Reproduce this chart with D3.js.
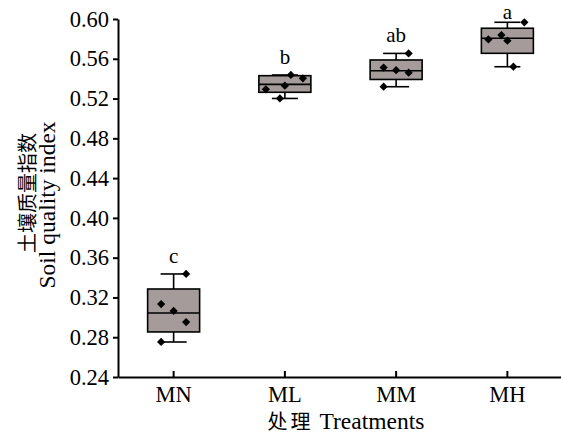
<!DOCTYPE html>
<html>
<head>
<meta charset="utf-8">
<script src="https://cdn.jsdelivr.net/npm/d3@7"></script>
<style>
  html, body { margin: 0; padding: 0; background: #fff; }
  svg { display: block; }
</style>
</head>
<body>
<script>
// data
const treatments = ["MN", "ML", "MM", "MH"];
const whiskerMin = [0.2752, 0.5201, 0.5319, 0.5520];
const q1 = [0.2853, 0.5263, 0.5392, 0.5655];
const median = [0.3044, 0.5343, 0.5480, 0.5806];
const q3 = [0.3285, 0.5430, 0.5588, 0.5907];
const whiskerMax = [0.3436, 0.5437, 0.5654, 0.5967];
const samples = [
  [0.3436, 0.3134, 0.3064, 0.2953, 0.2752],
  [0.5437, 0.5404, 0.5330, 0.5293, 0.5201],
  [0.5654, 0.5512, 0.5485, 0.5460, 0.5319],
  [0.5967, 0.5795, 0.5839, 0.5782, 0.5520]
];
const letters = ["c", "b", "ab", "a"];
const yTicks = [0.24, 0.28, 0.32, 0.36, 0.40, 0.44, 0.48, 0.52, 0.56, 0.60];

// horizontal jitter of the dots (px), as in the figure
const jitter = [
  [12.5, -12.5, 0, 12.5, -12.5],
  [6, 18, 0, -19, -5],
  [12.5, -12.5, 0, 12.5, -12.5],
  [17, -19, -6, 0, 6]
];

const w = 561, h = 434;
const margin = {top: 19, right: -2, bottom: 57, left: 118};
const innerW = w - margin.left - margin.right;
const innerH = h - margin.top - margin.bottom;
const serif = "'Liberation Serif', 'Times New Roman', serif";
const cjk = "'Noto Sans CJK SC', sans-serif";

const svg = d3.select("body").append("svg")
  .attr("width", w)
  .attr("height", h)
  .attr("viewBox", [0, 0, w, h]);

const g = svg.append("g")
  .attr("transform", `translate(${margin.left},${margin.top})`);

// four equal bands, tick at the middle of each
const x = d3.scaleBand()
  .domain(treatments)
  .range([0, innerW])
  .padding(0);

const y = d3.scaleLinear()
  .domain([0.24, 0.60])
  .range([innerH, 0]);

const boxW = 52;
const capW = 26;

const rows = treatments.map((t, i) => ({
  t, i, lo: whiskerMin[i], q1: q1[i], med: median[i], q3: q3[i], hi: whiskerMax[i],
  pts: samples[i], letter: letters[i]
}));

const box = g.selectAll("g.box")
  .data(rows)
  .join("g")
  .attr("class", "box")
  .attr("transform", d => `translate(${x(d.t) + x.bandwidth() / 2},0)`);

// whiskers
box.append("line")
  .attr("x1", 0).attr("x2", 0)
  .attr("y1", d => y(d.hi)).attr("y2", d => y(d.q3))
  .attr("stroke", "#000").attr("stroke-width", 1.6);
box.append("line")
  .attr("x1", 0).attr("x2", 0)
  .attr("y1", d => y(d.q1)).attr("y2", d => y(d.lo))
  .attr("stroke", "#000").attr("stroke-width", 1.6);
box.append("line")
  .attr("x1", -capW / 2).attr("x2", capW / 2)
  .attr("y1", d => y(d.hi)).attr("y2", d => y(d.hi))
  .attr("stroke", "#000").attr("stroke-width", 1.6);
box.append("line")
  .attr("x1", -capW / 2).attr("x2", capW / 2)
  .attr("y1", d => y(d.lo)).attr("y2", d => y(d.lo))
  .attr("stroke", "#000").attr("stroke-width", 1.6);

// box
box.append("rect")
  .attr("x", -boxW / 2)
  .attr("width", boxW)
  .attr("y", d => y(d.q3))
  .attr("height", d => y(d.q1) - y(d.q3))
  .attr("fill", "#a49b9a")
  .attr("stroke", "#000")
  .attr("stroke-width", 1.6);

// median
box.append("line")
  .attr("x1", -boxW / 2).attr("x2", boxW / 2)
  .attr("y1", d => y(d.med)).attr("y2", d => y(d.med))
  .attr("stroke", "#000").attr("stroke-width", 1.6);

// dots
const diamond = d3.symbol().type(d3.symbolSquare).size(34);
box.selectAll("path.pt")
  .data(d => d.pts.map((v, k) => ({v, dx: jitter[d.i][k]})))
  .join("path")
  .attr("class", "pt")
  .attr("d", diamond)
  .attr("transform", p => `translate(${p.dx},${y(p.v)}) rotate(45)`)
  .attr("fill", "#000");

// significance letters
box.append("text")
  .attr("x", 0)
  .attr("y", d => Math.max(y(d.hi) - 11, 0))
  .attr("text-anchor", "middle")
  .attr("font-family", serif)
  .attr("font-size", 21)
  .text(d => d.letter);

// axes
const xAxis = d3.axisBottom(x).tickSize(-6).tickSizeOuter(0).tickPadding(9);
const yAxis = d3.axisLeft(y).tickValues(yTicks).tickFormat(d3.format(".2f"))
  .tickSize(5).tickSizeOuter(0).tickPadding(4);

const xAxisG = g.append("g")
  .attr("transform", `translate(0,${innerH})`)
  .call(xAxis);
const yAxisG = g.append("g").call(yAxis);

[xAxisG, yAxisG].forEach(a => {
  a.select(".domain").attr("stroke", "#000").attr("stroke-width", 2);
  a.selectAll(".tick line").attr("stroke", "#000").attr("stroke-width", 2);
  a.selectAll(".tick text")
    .attr("fill", "#000")
    .attr("font-family", serif)
    .attr("font-size", 22.5);
});

// axis titles
const xt = svg.append("text")
  .attr("x", 346)
  .attr("y", 429)
  .attr("text-anchor", "middle")
  .attr("fill", "#000");
xt.append("tspan").attr("font-family", cjk).attr("font-size", 20)
  .attr("letter-spacing", 3).text("处理");
xt.append("tspan").attr("font-family", serif).attr("font-size", 23.5)
  .text(" Treatments");

svg.append("text")
  .attr("transform", "translate(35,193) rotate(-90)")
  .attr("text-anchor", "middle")
  .attr("font-family", cjk)
  .attr("font-size", 20)
  .attr("fill", "#000")
  .text("土壤质量指数");

svg.append("text")
  .attr("transform", "translate(55,205) rotate(-90)")
  .attr("text-anchor", "middle")
  .attr("font-family", serif)
  .attr("font-size", 23.5)
  .attr("fill", "#000")
  .text("Soil quality index");
</script>
</body>
</html>
